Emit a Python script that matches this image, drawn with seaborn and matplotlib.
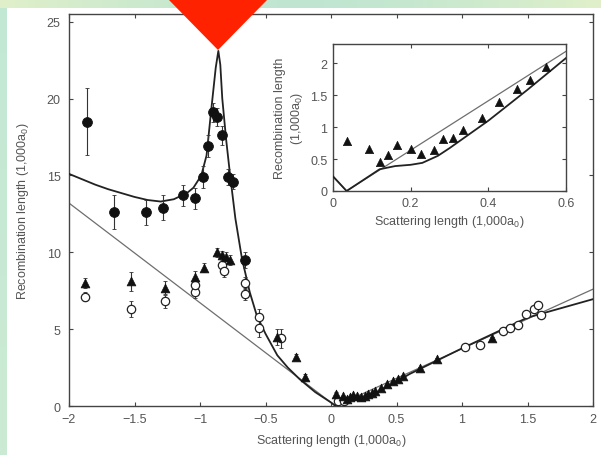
import numpy as np
import matplotlib
matplotlib.use("Agg")
import matplotlib.pyplot as plt
import seaborn as sns
from matplotlib.patches import Polygon

# curves
thick_x = [-2.0, -1.9, -1.8, -1.7, -1.6, -1.5, -1.4, -1.3, -1.2, -1.1, -1.05, -0.99, -0.95,
           -0.91, -0.88, -0.86, -0.845, -0.83, -0.8, -0.77, -0.73, -0.68, -0.62, -0.567, -0.5,
           -0.41, -0.33, -0.24, -0.12, 0.0, 0.035, 0.12, 0.16, 0.2, 0.23, 0.27, 0.3, 0.4, 0.5,
           0.6, 1.0, 1.5, 2.0]
thick_y = [15.1, 14.75, 14.4, 14.1, 13.85, 13.6, 13.4, 13.3, 13.45, 13.85, 14.2, 15.0, 16.3,
           19.6, 22.0, 23.1, 22.2, 20.0, 17.3, 15.0, 12.2, 9.6, 7.4, 5.9, 4.7,
           3.3, 2.5, 1.75, 0.9, 0.23, 0.0, 0.34, 0.39, 0.41, 0.44, 0.55, 0.67, 1.1, 1.58,
           2.08, 3.75, 5.75, 6.95]
thin_x = [-2.0, 0.035, 2.0]
thin_y = [13.2, 0.0, 7.6]

# filled circles
fc_x = [-1.86, -1.66, -1.41, -1.28, -1.13, -1.04, -0.98, -0.94, -0.90, -0.87, -0.83, -0.79, -0.75, -0.66]
fc_y = [18.5, 12.6, 12.6, 12.9, 13.7, 13.5, 14.9, 16.9, 19.1, 18.8, 17.6, 14.9, 14.6, 9.5]
fc_err = [2.2, 1.1, 0.8, 0.8, 0.7, 0.7, 0.7, 0.7, 0.6, 0.6, 0.6, 0.5, 0.5, 0.5]

# triangles
tri_x = [-1.88, -1.53, -1.27, -1.04, -0.97, -0.87, -0.83, -0.80, -0.77, -0.41, -0.27, -0.2,
         0.035, 0.093, 0.121, 0.142, 0.165, 0.2, 0.226, 0.26, 0.284, 0.31, 0.336, 0.384,
         0.428, 0.474, 0.508, 0.548, 0.68, 0.81, 1.23]
tri_y = [8.0, 8.1, 7.7, 8.4, 9.0, 10.0, 9.8, 9.7, 9.5, 4.5, 3.2, 1.9,
         0.79, 0.66, 0.45, 0.57, 0.72, 0.65, 0.58, 0.64, 0.81, 0.83, 0.95, 1.15,
         1.40, 1.60, 1.73, 1.94, 2.45, 3.05, 4.4]
tri_err = [0.3, 0.6, 0.4, 0.4, 0.3, 0.3, 0.3, 0.3, 0.3, 0.5, 0.2, 0.2,
           0.1, 0, 0, 0, 0, 0, 0, 0, 0, 0, 0, 0,
           0, 0, 0, 0, 0.1, 0.1, 0.1]

# open circles
oc_x = [-1.88, -1.53, -1.27, -1.04, -1.04, -0.83, -0.82, -0.66, -0.66, -0.55, -0.55, -0.38,
        0.05, 0.1, 1.02, 1.14, 1.31, 1.37, 1.43, 1.49, 1.55, 1.58, 1.6]
oc_y = [7.1, 6.3, 6.8, 7.4, 7.9, 9.2, 8.8, 8.0, 7.3, 5.8, 5.1, 4.4,
        0.3, 0.35, 3.85, 4.0, 4.85, 5.1, 5.3, 6.0, 6.3, 6.6, 5.9]
oc_err = [0.3, 0.5, 0.4, 0.4, 0.4, 0.4, 0.4, 0.4, 0.4, 0.5, 0.6, 0.6,
          0.1, 0.1, 0.1, 0.1, 0.1, 0.1, 0.1, 0.1, 0.1, 0.2, 0.2]

main_xticks = [-2, -1.5, -1, -0.5, 0, 0.5, 1, 1.5, 2]
main_xlabels = ["\u22122", "\u22121.5", "\u22121", "\u22120.5", "0", "0.5", "1", "1.5", "2"]
main_yticks = [0, 5, 10, 15, 20, 25]
ins_xticks = [0, 0.2, 0.4, 0.6]
ins_xlabels = ["0", "0.2", "0.4", "0.6"]
ins_yticks = [0, 0.5, 1, 1.5, 2]
ins_ylabels = ["0", "0.5", "1", "1.5", "2"]

sns.set_theme(style="ticks")
plt.rcParams["font.family"] = ["Liberation Sans", "DejaVu Sans"]
plt.rcParams["mathtext.default"] = "regular"
txt = "#555555"
fs = 9

fig = plt.figure(figsize=(6.01, 4.56), dpi=100, facecolor="white")

# mint frame on the left, a top band going yellowish towards the corners
left = fig.add_axes([0, 0, 7 / 601, 1], zorder=-10)
vcol = np.zeros((256, 1, 3))
t = np.linspace(0, 1, 256)
vcol[:, 0, 0] = 0.76 + 0.04 * t
vcol[:, 0, 1] = 0.91 + 0.01 * t
vcol[:, 0, 2] = 0.83
left.imshow(vcol, aspect="auto", extent=[0, 1, 0, 1])
left.axis("off")

top = fig.add_axes([0, 1 - 9 / 456, 1, 9 / 456], zorder=-10)
tint = np.abs(t - 0.5) * 2
hcol = np.zeros((1, 256, 3))
hcol[0, :, 0] = 0.75 + 0.13 * tint ** 1.5
hcol[0, :, 1] = 0.90 + 0.04 * tint ** 1.5
hcol[0, :, 2] = 0.82 - 0.03 * tint ** 1.5
top.imshow(hcol, aspect="auto", extent=[0, 1, 0, 1])
top.axis("off")


def draw(ax, err=True, ms=1.0):
    sns.lineplot(x=thin_x, y=thin_y, ax=ax, sort=False, estimator=None,
                 color="#6e6e6e", lw=0.9, zorder=2)
    sns.lineplot(x=thick_x, y=thick_y, ax=ax, sort=False, estimator=None,
                 color="#222222", lw=1.3, zorder=3)
    if err:
        for ex, ey, ee in [(fc_x, fc_y, fc_err), (tri_x, tri_y, tri_err), (oc_x, oc_y, oc_err)]:
            ax.errorbar(ex, ey, yerr=ee, fmt="none", ecolor="#333333", elinewidth=0.8,
                        capsize=1.5, capthick=0.6, zorder=4)
        sns.scatterplot(x=fc_x, y=fc_y, ax=ax, marker="o", s=50 * ms, color="#111111",
                        edgecolor="#111111", zorder=5)
        sns.scatterplot(x=oc_x, y=oc_y, ax=ax, marker="o", s=36 * ms, facecolor="white",
                        edgecolor="#222222", linewidth=0.9, zorder=5)
    sns.scatterplot(x=tri_x, y=tri_y, ax=ax, marker="^", s=40 * ms, color="#111111",
                    edgecolor="#111111", zorder=6)
    for s in ax.spines.values():
        s.set_visible(True)
        s.set_color("#444444")
        s.set_linewidth(1.0)
    ax.tick_params(direction="in", top=True, right=True, length=3, width=0.8,
                   colors="#444444", labelcolor=txt, labelsize=fs)


ax = fig.add_axes([69 / 601, 1 - 407 / 456, 524 / 601, 392 / 456])
ax.set_facecolor("none")
draw(ax)
ax.tick_params(axis="x", pad=5)
ax.tick_params(axis="y", pad=6)
ax.set_xlim(-2, 2)
ax.set_ylim(0, 25.5)
ax.set_xticks(main_xticks)
ax.set_xticklabels(main_xlabels)
ax.set_yticks(main_yticks)
ax.set_xlabel("Scattering length (1,000a$_0$)", fontsize=fs, color=txt, labelpad=5)
ax.set_ylabel("Recombination length (1,000a$_0$)", fontsize=fs, color=txt, labelpad=11)

ins = fig.add_axes([333 / 601, 1 - 192 / 456, 233 / 601, 147 / 456])
ins.set_facecolor("white")
draw(ins, err=False, ms=0.9)
ins.tick_params(pad=4)
ins.set_xlim(0, 0.6)
ins.set_ylim(0, 2.3)
ins.set_xticks(ins_xticks)
ins.set_xticklabels(ins_xlabels)
ins.set_yticks(ins_yticks)
ins.set_yticklabels(ins_ylabels)
ins.set_xlabel("Scattering length (1,000a$_0$)", fontsize=fs, color=txt, labelpad=3)
ins.set_ylabel("Recombination length\n(1,000a$_0$)", fontsize=fs, color=txt, labelpad=4,
               linespacing=1.2)

tri = Polygon([(168 / 601, 1.0), (268 / 601, 1.0), (218 / 601, 1 - 51 / 456)],
              closed=True, transform=fig.transFigure, facecolor="#ff2200",
              edgecolor="none", zorder=20)
fig.patches.append(tri)

fig.savefig("out.png", dpi=100, facecolor=fig.get_facecolor())
